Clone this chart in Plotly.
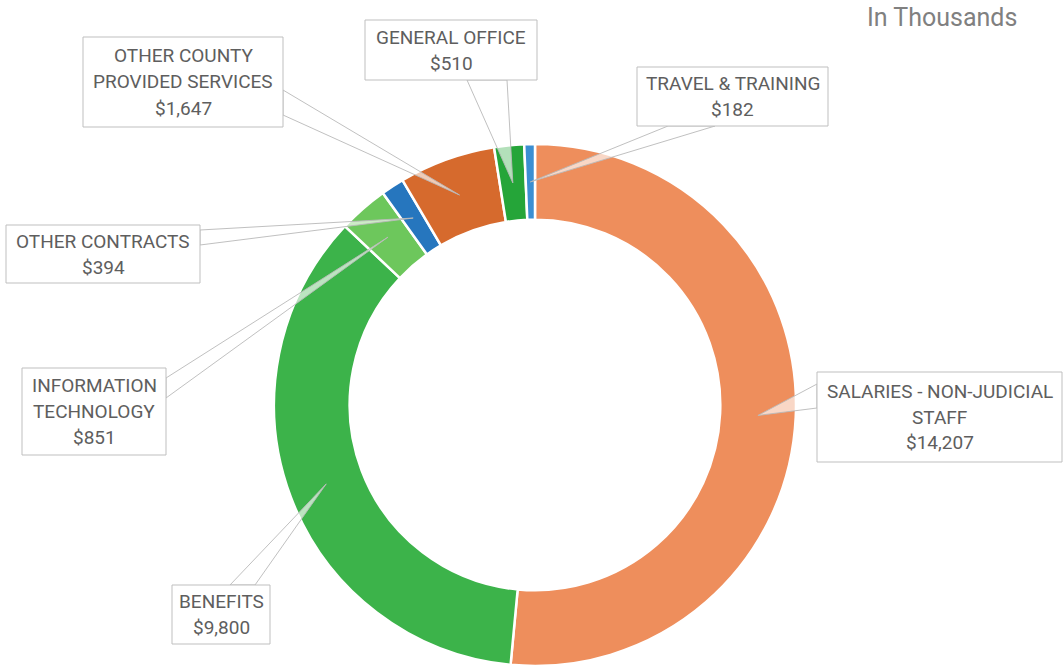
"""Budget donut: expenditure by category, in thousands."""

import math
import plotly.graph_objects as go

W, H = 1063, 669

categories = [
    "SALARIES - NON-JUDICIAL STAFF",
    "BENEFITS",
    "INFORMATION TECHNOLOGY",
    "OTHER CONTRACTS",
    "OTHER COUNTY PROVIDED SERVICES",
    "GENERAL OFFICE",
    "TRAVEL & TRAINING",
]
values = [14207, 9800, 851, 394, 1647, 510, 182]
label_lines = [
    ["SALARIES - NON-JUDICIAL", "STAFF"],
    ["BENEFITS"],
    ["INFORMATION", "TECHNOLOGY"],
    ["OTHER CONTRACTS"],
    ["OTHER COUNTY", "PROVIDED SERVICES"],
    ["GENERAL OFFICE"],
    ["TRAVEL & TRAINING"],
]
colors = ["#EE8E5C", "#3CB34A", "#6DC75C", "#2676BE", "#D66A2D", "#25A539", "#3B8FD2"]

# label boxes in pixels: (x0, y0, x1, y1), leader base points on the box edge
boxes = [
    (817, 372, 1062, 462),
    (172, 585, 270, 644),
    (22, 368, 166, 455),
    (6, 225, 200, 283),
    (83, 37, 283, 127),
    (365, 20, 537, 80),
    (637, 67, 828, 126),
]
bases = [
    ((817, 384), (817, 408)),
    ((230, 585), (255, 585)),
    ((166, 378), (166, 398)),
    ((200, 230), (200, 245)),
    ((283, 90), (283, 115)),
    ((467, 80), (507, 80)),
    ((668, 126), (715, 126)),
]

CX, CY, R = 535, 405, 261
HOLE = 0.71
LINE_GAP = 26
TEXT_COLOR = "#5E5E5E"
FONT = "Roboto"


def px(x):
    return x / W


def py(y):
    return 1 - y / H


fig = go.Figure(go.Pie(
    labels=categories,
    values=values,
    hole=HOLE,
    sort=False,
    direction="clockwise",
    rotation=0,
    textinfo="none",
    hoverinfo="label+value",
    marker=dict(colors=colors, line=dict(color="white", width=2.5)),
    domain=dict(x=[px(CX - R), px(CX + R)], y=[py(CY + R), py(CY - R)]),
    showlegend=False,
))

shapes = []
annotations = []
total = sum(values)
cum = 0
r_mid = R * (1 + HOLE) / 2
for name_lines, val, box, base in zip(label_lines, values, boxes, bases):
    # leader tip sits mid-ring at the slice's centre angle
    mid = (cum + val / 2) / total * 2 * math.pi
    cum += val
    tx = CX + r_mid * math.sin(mid)
    ty = CY - r_mid * math.cos(mid)
    (bx1, by1), (bx2, by2) = base
    path = (f"M {px(bx1)} {py(by1)} L {px(tx)} {py(ty)} "
            f"L {px(bx2)} {py(by2)} Z")
    shapes.append(dict(
        type="path", path=path, xref="paper", yref="paper",
        fillcolor="rgba(255,255,255,0.65)",
        line=dict(color="rgba(185,185,185,0.9)", width=1),
    ))

    x0, y0, x1, y1 = box
    shapes.append(dict(
        type="rect", xref="paper", yref="paper",
        x0=px(x0), x1=px(x1), y0=py(y1), y1=py(y0),
        fillcolor="white", line=dict(color="#BFBFBF", width=1),
    ))
    lines = name_lines + [f"${val:,}"]
    yc = (y0 + y1) / 2
    start = yc - LINE_GAP * (len(lines) - 1) / 2
    for i, txt in enumerate(lines):
        annotations.append(dict(
            text=txt, xref="paper", yref="paper",
            x=px((x0 + x1) / 2), y=py(start + i * LINE_GAP),
            xanchor="center", yanchor="middle", showarrow=False,
            font=dict(family=FONT, size=19, color=TEXT_COLOR),
        ))

annotations.append(dict(
    text="In Thousands", xref="paper", yref="paper",
    x=px(942), y=py(17), xanchor="center", yanchor="middle",
    showarrow=False, font=dict(family=FONT, size=25, color="#808080"),
))

fig.update_layout(
    width=W, height=H,
    margin=dict(l=0, r=0, t=0, b=0),
    paper_bgcolor="white",
    plot_bgcolor="white",
    shapes=shapes,
    annotations=annotations,
)

# drop the default 8px body margin so the figure sits at the page origin
fig.write_html(
    "out.html",
    config={"displayModeBar": False},
    post_script="document.body.style.margin='0';",
)
